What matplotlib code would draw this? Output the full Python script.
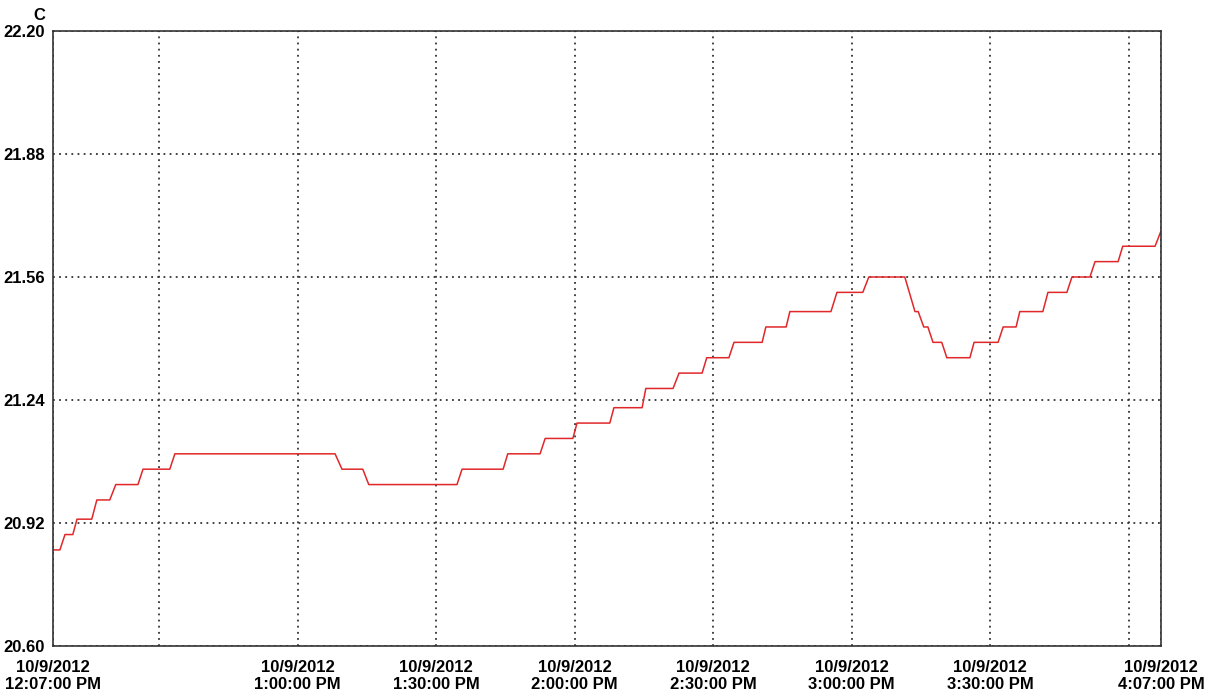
"""Temperature log, 10/9/2012 afternoon"""

import matplotlib
matplotlib.use('Agg')
import matplotlib.pyplot as plt
import matplotlib.dates as mdates
import pandas as pd

plt.rcParams['font.family'] = ['Liberation Sans', 'DejaVu Sans']
plt.rcParams['font.weight'] = 'bold'

times = ['12:07:00', '12:08:30', '12:09:36', '12:11:18', '12:12:12', '12:15:24',
         '12:16:30', '12:19:18', '12:20:36', '12:25:24', '12:26:30', '12:32:18',
         '12:33:24', '13:08:06', '13:09:36', '13:14:06', '13:15:24', '13:34:30',
         '13:35:36', '13:44:30', '13:45:30', '13:52:30', '13:53:36', '13:59:36',
         '14:00:30', '14:07:36', '14:08:30', '14:14:36', '14:15:24', '14:21:18',
         '14:22:36', '14:27:36', '14:28:36', '14:33:24', '14:34:30', '14:40:36',
         '14:41:24', '14:45:48', '14:46:36', '14:55:30', '14:56:48', '15:02:24',
         '15:03:42', '15:11:30', '15:13:42', '15:14:24', '15:15:36', '15:16:30',
         '15:17:36', '15:19:30', '15:20:36', '15:25:36', '15:26:30', '15:31:42',
         '15:32:48', '15:35:36', '15:36:24', '15:41:24', '15:42:30', '15:46:36',
         '15:47:42', '15:51:36', '15:52:42', '15:57:42', '15:58:42', '16:05:42',
         '16:07:00']
temps = [20.85, 20.85, 20.89, 20.89, 20.93, 20.93,
         20.98, 20.98, 21.02, 21.02, 21.06, 21.06,
         21.10, 21.10, 21.06, 21.06, 21.02, 21.02,
         21.06, 21.06, 21.10, 21.10, 21.14, 21.14,
         21.18, 21.18, 21.22, 21.22, 21.27, 21.27,
         21.31, 21.31, 21.35, 21.35, 21.39, 21.39,
         21.43, 21.43, 21.47, 21.47, 21.52, 21.52,
         21.56, 21.56, 21.47, 21.47, 21.43, 21.43,
         21.39, 21.39, 21.35, 21.35, 21.39, 21.39,
         21.43, 21.43, 21.47, 21.47, 21.52, 21.52,
         21.56, 21.56, 21.60, 21.60, 21.64, 21.64,
         21.68]

x_ticks = ['12:07:00', '13:00:00', '13:30:00', '14:00:00', '14:30:00',
           '15:00:00', '15:30:00', '16:07:00']
x_labels = ['12:07:00 PM', '1:00:00 PM', '1:30:00 PM', '2:00:00 PM',
            '2:30:00 PM', '3:00:00 PM', '3:30:00 PM', '4:07:00 PM']
x_extra_grid = ['12:30:00', '16:00:00']
y_ticks = [20.60, 20.92, 21.24, 21.56, 21.88, 22.20]

day = '2012-10-09 '
t = pd.to_datetime([day + s for s in times])
tick_t = pd.to_datetime([day + s for s in x_ticks])
minor_t = pd.to_datetime([day + s for s in x_extra_grid])

fig = plt.figure(figsize=(12.15, 6.96), dpi=100)
ax = fig.add_axes([0.0436, 0.0718, 0.912, 0.8837])

ax.plot(t, temps, color='#e0282a', linewidth=1.1)

ax.set_xlim(tick_t[0], tick_t[-1])
ax.set_ylim(20.60, 22.20)

ax.set_xticks(mdates.date2num(tick_t))
ax.set_xticklabels(['10/9/2012\n' + s for s in x_labels], linespacing=1.15)
ax.set_xticks(mdates.date2num(minor_t), minor=True)
ax.set_yticks(y_ticks)
ax.set_yticklabels(['%.2f' % v for v in y_ticks])

ax.tick_params(axis='both', which='both', length=0, labelsize=12, colors='black')
ax.tick_params(axis='x', pad=10)
ax.tick_params(axis='y', pad=6)

grid_kw = dict(color='#333333', linewidth=1.3, linestyle=(0, (1.0, 2.4)))
ax.grid(True, which='both', **grid_kw)

for sp in ax.spines.values():
    sp.set_color('#333333')
    sp.set_linewidth(1.2)

ax.text(-0.007, 1.025, 'C', transform=ax.transAxes, ha='right', va='center',
        fontsize=12, fontweight='bold')

fig.savefig('out.png', dpi=100)
